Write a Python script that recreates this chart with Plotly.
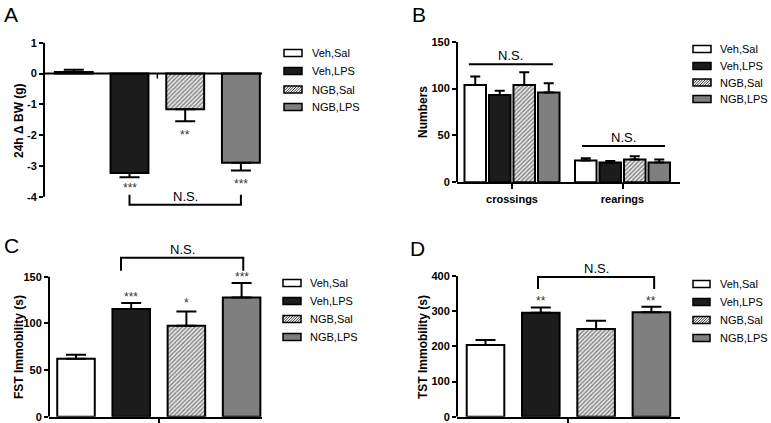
import plotly.graph_objects as go

W, H = 771, 423
FONT = "Liberation Sans, Arial, sans-serif"

groups = ["Veh,Sal", "Veh,LPS", "NGB,Sal", "NGB,LPS"]

# A: 24h change of body weight
bw_mean = [0.05, -3.23, -1.16, -2.90]
bw_sem = [0.07, 0.14, 0.39, 0.25]
bw_stars = ["", "***", "**", "***"]
bw_star_y = [None, -3.61, -1.90, -3.50]
bw_ticks = [-4, -3, -2, -1, 0, 1]

# B: open field
of_tests = ["crossings", "rearings"]
of_mean = [[103.9, 23.2], [93.2, 21.1], [103.9, 24.3], [95.7, 21.1]]
of_sem = [[9.0, 2.5], [4.6, 1.7], [13.6, 3.6], [10.0, 3.2]]
of_ticks = [0, 50, 100, 150]

# C: forced swim test
fst_mean = [62.0, 115.4, 97.5, 127.8]
fst_sem = [4.3, 6.4, 15.3, 15.4]
fst_stars = ["", "***", "*", "***"]
fst_star_y = [None, 131, 125, 153]
fst_ticks = [0, 50, 100, 150]

# D: tail suspension test
tst_mean = [203.8, 295.6, 249.0, 296.7]
tst_sem = [14, 15, 24, 16]
tst_stars = ["", "**", "", "**"]
tst_star_y = [None, 338, None, 338]
tst_ticks = [0, 100, 200, 300, 400]

fills = ["white", "#1c1c1c", "white", "#7f7f7f"]
hatch = dict(shape="/", fgcolor="#222222", bgcolor="#f4f4f4", size=3, solidity=0.55)


def xr(l, r, c0, u):
    return [(l - c0) / u, (r - c0) / u]


def yr(top, bot, ref):
    (v1, p1), (v2, p2) = ref
    k = (v2 - v1) / (p2 - p1)
    return [v1 + (bot - p1) * k, v1 + (top - p1) * k]


# pixel layout of the four panels
panels = [
    dict(xpx=(44, 262), c0=73.8, unit=55.7, ypx=(36, 214), yref=((1, 42.7), (-4, 196.7)),
         ticks=bw_ticks, title="24h \u0394 BW (g)", tpos=(19, 121), letter="A", lpos=(11, 14)),
    dict(xpx=(457, 680), c0=512, unit=110.5, ypx=(41.7, 182.3), yref=((0, 182.3), (150, 41.7)),
         ticks=of_ticks, title="Numbers", tpos=(423, 112), letter="B", lpos=(419, 14)),
    dict(xpx=(49, 262), c0=76, unit=55.2, ypx=(248, 416.7), yref=((0, 416.7), (150, 276.7)),
         ticks=fst_ticks, title="FST Immobility (s)", tpos=(19, 347), letter="C", lpos=(11, 246)),
    dict(xpx=(457, 680), c0=485.5, unit=55.3, ypx=(262, 416.7), yref=((0, 416.7), (400, 276)),
         ticks=tst_ticks, title="TST Immobility (s)", tpos=(423, 347), letter="D", lpos=(417, 249)),
]

fig = go.Figure()


def marker(i):
    m = dict(color=fills[i], line=dict(color="black", width=2))
    if i == 2:
        m["pattern"] = hatch
    return m


def single_bars(n, means, sems, capw):
    for i, g in enumerate(groups):
        m, e = means[i], sems[i]
        fig.add_trace(go.Bar(
            x=[i], y=[m], width=0.68, name=g, marker=marker(i),
            error_y=dict(type="data", symmetric=False,
                         array=[e if m >= 0 else 0], arrayminus=[e if m < 0 else 0],
                         color="black", thickness=2, width=capw),
            xaxis="x" if n == 1 else f"x{n}", yaxis="y" if n == 1 else f"y{n}",
            showlegend=False))


single_bars(1, bw_mean, bw_sem, 10)
single_bars(3, fst_mean, fst_sem, 10)
single_bars(4, tst_mean, tst_sem, 10)

slot = 0.2217
for j, g in enumerate(groups):
    fig.add_trace(go.Bar(
        x=[0, 1], y=of_mean[j], width=0.195, offset=-2 * slot + j * slot + (slot - 0.195) / 2,
        name=g, marker=marker(j),
        error_y=dict(type="data", symmetric=False, array=of_sem[j], arrayminus=[0, 0],
                     color="black", thickness=2, width=5),
        xaxis="x2", yaxis="y2", showlegend=False))

shapes = []
annotations = []
layout = dict(width=W, height=H, margin=dict(l=0, r=0, t=0, b=0, autoexpand=False), barmode="overlay",
              autosize=False, paper_bgcolor="white", plot_bgcolor="white", showlegend=False,
              font=dict(family=FONT, color="black"))

for n, p in enumerate(panels, 1):
    sx = "" if n == 1 else str(n)
    yrange = yr(p["ypx"][0], p["ypx"][1], p["yref"])
    layout["xaxis" + sx] = dict(
        domain=[p["xpx"][0] / W, p["xpx"][1] / W], range=xr(p["xpx"][0], p["xpx"][1], p["c0"], p["unit"]),
        anchor="y" + sx, showgrid=False, zeroline=False, showline=(n != 1), linecolor="black", linewidth=2,
        ticks="" if n == 1 else "outside", ticklen=5, tickwidth=1.5, tickcolor="black",
        tickvals=[0, 1] if n == 2 else [1.5], ticktext=of_tests if n == 2 else [""],
        showticklabels=(n == 2), tickfont=dict(family=FONT, size=11, color="black", weight="bold"),
        automargin=False, fixedrange=True)
    layout["yaxis" + sx] = dict(
        domain=[1 - p["ypx"][1] / H, 1 - p["ypx"][0] / H], range=yrange, anchor="x" + sx,
        showgrid=False, zeroline=False, showline=False,
        tickvals=p["ticks"], ticktext=[str(v) for v in p["ticks"]],
        ticks="outside", ticklen=4, tickwidth=1.5, tickcolor="black",
        tickfont=dict(family=FONT, size=11, color="black", weight="bold"),
        automargin=False, fixedrange=True)
    # y axis line only over the tick span
    shapes.append(dict(type="line", xref=f"x{sx} domain", x0=0, x1=0, yref="y" + sx,
                       y0=p["ticks"][0], y1=p["ticks"][-1], line=dict(color="black", width=2)))
    annotations.append(dict(text=p["title"], x=p["tpos"][0] / W, y=1 - p["tpos"][1] / H,
                            xref="paper", yref="paper", showarrow=False, textangle=-90,
                            xanchor="center", yanchor="middle",
                            font=dict(family=FONT, size=12, weight="bold")))
    annotations.append(dict(text=p["letter"], x=p["lpos"][0] / W, y=1 - p["lpos"][1] / H,
                            xref="paper", yref="paper", showarrow=False,
                            xanchor="center", yanchor="middle",
                            font=dict(family=FONT, size=21)))

# panel A: x axis at zero with centre tick
shapes.append(dict(type="line", xref="x domain", x0=0, x1=1, yref="y", y0=0, y1=0,
                   line=dict(color="black", width=2)))
shapes.append(dict(type="line", xref="x", x0=1.5, x1=1.5, yref="y", ysizemode="pixel", yanchor=0,
                   y0=0, y1=-5, line=dict(color="black", width=1.5)))


def stars(n, labels, ys):
    sx = "" if n == 1 else str(n)
    for i, (s, y) in enumerate(zip(labels, ys)):
        if s:
            annotations.append(dict(text=s, x=i, y=y, xref="x" + sx, yref="y" + sx, showarrow=False,
                                    yshift=-3, font=dict(family=FONT, size=12, color="#333333")))


stars(1, bw_stars, bw_star_y)
stars(3, fst_stars, fst_star_y)
stars(4, tst_stars, tst_star_y)


def bracket(n, xa, xb, yb, yl, ty=None):
    sx = "" if n == 1 else str(n)
    if yl is None:
        path = f"M{xa},{yb} H{xb}"
    else:
        path = f"M{xa},{yl} V{yb} H{xb} V{yl}"
    shapes.append(dict(type="path", path=path, xref="x" + sx, yref="y" + sx,
                       line=dict(color="black", width=2)))
    annotations.append(dict(text="N.S.", x=(xa + xb) / 2, y=yb if ty is None else ty,
                            xref="x" + sx, yref="y" + sx, showarrow=False, yanchor="bottom",
                            yshift=-1, font=dict(family=FONT, size=13)))


bracket(1, 1, 3, -4.26, -3.935, -4.26)
bracket(2, -0.39, 0.37, 126, None)
bracket(2, 0.633, 1.385, 38.6, None)
bracket(3, 0.815, 3.03, 170.4, 156.4)
bracket(4, 0.95, 3.05, 397, 363)


# hand-made legends (wide boxes like the original)
def legend(bx0, bx1, tx, ys):
    for i, (g, yc) in enumerate(zip(groups, ys)):
        y0, y1 = yc - 3.5, yc + 3.5
        if i == 2:
            shapes.append(dict(type="rect", xref="paper", yref="paper", x0=bx0 / W, x1=bx1 / W,
                               y0=1 - y1 / H, y1=1 - y0 / H, fillcolor="white", line=dict(width=0)))
            c = bx0 + y0
            while c < bx1 + y1:
                xa = max(bx0, c - y1)
                xb = min(bx1, c - y0)
                if xb > xa:
                    shapes.append(dict(type="line", xref="paper", yref="paper",
                                       x0=xa / W, y0=1 - (c - xa) / H, x1=xb / W, y1=1 - (c - xb) / H,
                                       line=dict(color="#3a3a3a", width=1)))
                c += 2.6
            fill = "rgba(0,0,0,0)"
        else:
            fill = fills[i]
        shapes.append(dict(type="rect", xref="paper", yref="paper", x0=bx0 / W, x1=bx1 / W,
                           y0=1 - y1 / H, y1=1 - y0 / H, fillcolor=fill,
                           line=dict(color="black", width=1.5)))
        annotations.append(dict(text=g, x=tx / W, y=1 - yc / H, xref="paper", yref="paper",
                                xanchor="left", yanchor="middle", showarrow=False,
                                font=dict(family=FONT, size=11)))


legend(284, 302, 310, [53, 71, 89.5, 107])
legend(693, 711, 718, [49, 66, 82.5, 99])
legend(283, 301, 308, [283, 301, 319, 337])
legend(693, 710, 718, [284, 302, 320, 338])

layout["shapes"] = shapes
layout["annotations"] = annotations
fig.update_layout(**layout)

fig.write_html("out.html", config={"responsive": False, "displayModeBar": False},
               post_script="document.body.style.margin='0';document.body.style.overflow='hidden';")
